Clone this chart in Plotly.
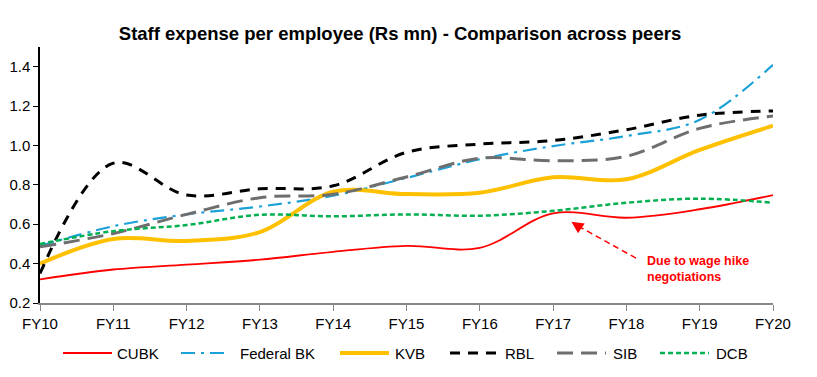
import plotly.graph_objects as go

years = ["FY10", "FY11", "FY12", "FY13", "FY14", "FY15", "FY16", "FY17", "FY18", "FY19", "FY20"]

cubk = [0.32, 0.37, 0.395, 0.42, 0.46, 0.49, 0.48, 0.655, 0.633, 0.676, 0.748]
federal = [0.49, 0.59, 0.65, 0.69, 0.745, 0.835, 0.93, 0.997, 1.048, 1.13, 1.41]
kvb = [0.40, 0.525, 0.515, 0.56, 0.765, 0.753, 0.76, 0.838, 0.828, 0.977, 1.10]
rbl = [0.35, 0.91, 0.748, 0.78, 0.795, 0.965, 1.007, 1.025, 1.08, 1.154, 1.175]
sib = [0.485, 0.553, 0.65, 0.735, 0.752, 0.84, 0.935, 0.922, 0.945, 1.087, 1.15]
dcb = [0.50, 0.565, 0.596, 0.648, 0.64, 0.65, 0.643, 0.668, 0.709, 0.73, 0.709]

series = [
    ("CUBK", cubk, dict(color="#FF0000", width=1.8, dash="solid")),
    ("Federal BK", federal, dict(color="#1BA1D8", width=2.2, dash="14px,6px,3px,6px")),
    ("KVB", kvb, dict(color="#FFC000", width=4, dash="solid")),
    ("RBL", rbl, dict(color="#000000", width=3, dash="10px,8px")),
    ("SIB", sib, dict(color="#6E6E6E", width=3, dash="16px,8px")),
    ("DCB", dcb, dict(color="#00B050", width=2.5, dash="5px,3px")),
]

# page has an 8px body margin; work in page pixels and convert
OFF = 8
W, H = 817 - 2 * OFF, 377 - 2 * OFF
L, R, T, B = 40 - OFF, 773 - OFF, 47 - OFF, 303 - OFF  # plot area (figure px)
PW, PH = R - L, B - T

def px(xpage):
    return (xpage - OFF - L) / PW

def py(ypage):
    return (B - (ypage - OFF)) / PH

fig = go.Figure()
for name, vals, ln in series:
    fig.add_trace(go.Scatter(
        x=years, y=vals, name=name, mode="lines", showlegend=False,
        line=dict(shape="spline", smoothing=1.0, **ln),
    ))

# custom legend (line sample + text), page coordinates
legend_line_x = [63, 181, 340, 450, 557, 660]
legend_text_x = [115, 238, 393, 503, 611, 714]
legend_y = 353
for (name, vals, ln), lx, tx in zip(series, legend_line_x, legend_text_x):
    fig.add_shape(type="line", xref="paper", yref="paper",
                  x0=px(lx), x1=px(lx + 49), y0=py(legend_y), y1=py(legend_y),
                  line=dict(color=ln["color"], width=ln["width"], dash=ln["dash"]))
    fig.add_annotation(x=px(tx), y=py(legend_y), xref="paper", yref="paper",
                       xanchor="left", yanchor="middle", text=name, showarrow=False,
                       font=dict(size=15, color="#000000"))

# annotation: dashed arrow
tip_x, tip_y = 7.25, 0.613
tail_x, tail_y = 8.13, 0.428
fig.add_shape(type="line", xref="x", yref="y", x0=tail_x, y0=tail_y,
              x1=tip_x + 0.08, y1=tip_y - 0.02,
              line=dict(color="#FF0000", width=1.5, dash="6px,4px"))
fig.add_annotation(x=tip_x, y=tip_y, ax=tip_x + 0.12, ay=tip_y - 0.03,
                   xref="x", yref="y", axref="x", ayref="y",
                   text="", showarrow=True, arrowhead=2, arrowsize=1.6,
                   arrowwidth=1.5, arrowcolor="#FF0000")
fig.add_annotation(x=px(645), y=py(252), xref="paper", yref="paper", xanchor="left", yanchor="top",
                   text="<b>Due to wage hike<br>negotiations</b>", showarrow=False, align="left",
                   font=dict(color="#FF0000", size=12.5))

fig.update_layout(
    width=W, height=H,
    margin=dict(l=L, r=W - R, t=T, b=H - B, autoexpand=False),
    paper_bgcolor="white", plot_bgcolor="white",
    font=dict(family="Liberation Sans, Arial, sans-serif", size=15, color="#000000"),
    title=dict(text="<b>Staff expense per employee (Rs mn) - Comparison across peers</b>",
               x=(400 - OFF) / W, xanchor="center", y=1 - (34 - OFF) / H, yanchor="middle",
               font=dict(size=18.5)),
    showlegend=False,
)
fig.update_xaxes(type="category", range=[0, 10], showline=True, linecolor="#888888",
                 linewidth=1.5, ticks="outside", tickcolor="#888888", ticklen=6,
                 showgrid=False, zeroline=False, automargin=False)
fig.update_yaxes(range=[0.2, 1.5], tickvals=[0.2, 0.4, 0.6, 0.8, 1.0, 1.2, 1.4],
                 tickformat=".1f", showline=True, linecolor="#000000", linewidth=1.5,
                 ticks="outside", tickcolor="#000000", ticklen=5, showgrid=False,
                 zeroline=False, automargin=False)

fig.write_html("out.html")
